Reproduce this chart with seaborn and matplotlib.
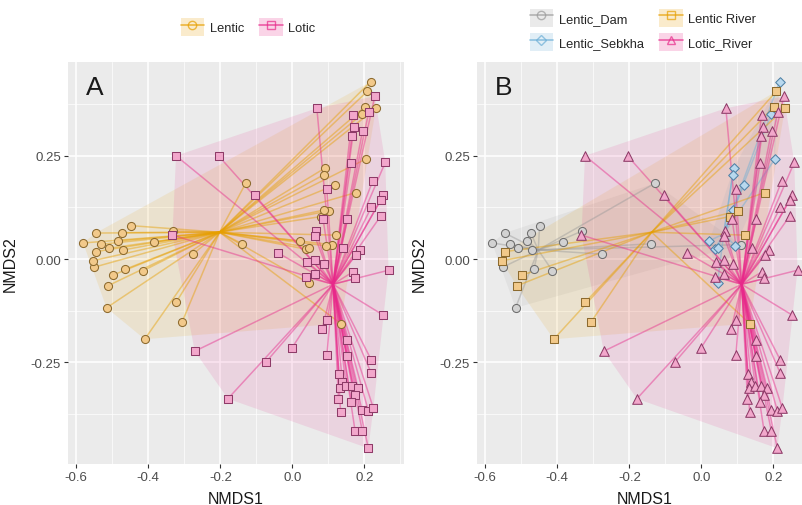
import numpy as np
import pandas as pd
import matplotlib
matplotlib.use("Agg")
import matplotlib.pyplot as plt
import seaborn as sns
from matplotlib.patches import Patch
from matplotlib.lines import Line2D
from matplotlib.collections import LineCollection
from matplotlib.legend_handler import HandlerTuple
from matplotlib.ticker import MultipleLocator, FormatStrFormatter

# ---------------- data (NMDS scores) ----------------
dam_x = [-0.581, -0.546, -0.530, -0.510, -0.483, -0.474, -0.449, -0.470, -0.384,
         -0.331, -0.276, -0.139, -0.130, -0.552, -0.465, -0.414, -0.516, 0.110]
dam_y = [0.039, 0.063, 0.036, 0.026, 0.044, 0.064, 0.081, 0.022, 0.041,
         0.068, 0.012, 0.037, 0.183, -0.020, -0.025, -0.028, -0.118, 0.035]

river_x = [-0.546, -0.554, -0.499, -0.513, -0.323, -0.306, -0.410, 0.208, 0.202,
           0.232, 0.176, 0.103, 0.080, 0.120, 0.134]
river_y = [0.018, -0.004, -0.039, -0.065, -0.105, -0.152, -0.194, 0.406, 0.369,
           0.365, 0.161, 0.117, 0.103, 0.058, -0.156]

sebkha_x = [0.217, 0.194, 0.204, 0.090, 0.087, 0.118, 0.089, 0.022, 0.037, 0.046,
            0.094, 0.045]
sebkha_y = [0.429, 0.351, 0.242, 0.220, 0.204, 0.179, 0.119, 0.044, 0.024, 0.028,
            0.032, -0.058]

lotic_x = [-0.323, -0.204, -0.105, -0.333, 0.068, 0.229, 0.167, 0.212, 0.171, 0.165,
           0.195, 0.258, 0.163, 0.223, 0.096, 0.253, 0.246, 0.219, 0.246, 0.153,
           0.085, 0.065, 0.062, -0.040, 0.140, 0.187, 0.176, 0.042, 0.064, 0.087,
           0.037, 0.063, 0.168, 0.175, 0.267, 0.253, 0.097, 0.083, -0.001, 0.096,
           0.153, 0.151, -0.074, 0.219, 0.219, 0.129, 0.139, 0.132, 0.150, 0.166,
           0.182, 0.173, 0.128, 0.164, 0.134, 0.193, 0.211, 0.225, 0.174, 0.194,
           0.211, -0.179, -0.271]
lotic_y = [0.250, 0.249, 0.155, 0.058, 0.365, 0.394, 0.348, 0.356, 0.319, 0.297,
           0.311, 0.234, 0.233, 0.189, 0.169, 0.155, 0.144, 0.125, 0.105, 0.096,
           0.098, 0.068, 0.056, 0.015, 0.027, 0.021, 0.011, -0.007, -0.002, -0.011,
           -0.043, -0.035, -0.031, -0.047, -0.027, -0.136, -0.147, -0.169, -0.215, -0.231,
           -0.197, -0.235, -0.250, -0.244, -0.276, -0.277, -0.298, -0.313, -0.308, -0.307,
           -0.311, -0.329, -0.339, -0.345, -0.370, -0.365, -0.367, -0.361, -0.415, -0.415,
           -0.458, -0.338, -0.223]

# group centroids (spider centres)
groups_A = ["Lentic", "Lotic"]
centroid_A_x = [-0.202, 0.113]
centroid_A_y = [0.065, -0.061]

groups_B = ["Lentic_Dam", "Lentic_Sebkha", "Lentic River", "Lotic_River"]
centroid_B_x = [-0.453, 0.062, -0.138, 0.112]
centroid_B_y = [0.022, 0.061, 0.065, -0.061]

x_ticks = [-0.6, -0.4, -0.2, 0.0, 0.2]
y_ticks = [-0.25, 0.00, 0.25]

# ---------------- assemble table ----------------
frames = []
for name, xs, ys in [("Lentic_Dam", dam_x, dam_y), ("Lentic River", river_x, river_y),
                     ("Lentic_Sebkha", sebkha_x, sebkha_y), ("Lotic_River", lotic_x, lotic_y)]:
    frames.append(pd.DataFrame({"NMDS1": xs, "NMDS2": ys, "habitat": name}))
df = pd.concat(frames, ignore_index=True)
df["type"] = np.where(df["habitat"].str.startswith("Lentic"), "Lentic", "Lotic")

# ---------------- styles ----------------
ORANGE = "#E69F00"
PINK = "#E7298A"
GREY = "#9A9A9A"
BLUE = "#6BAED6"
style = {
    "Lentic":        dict(col=ORANGE, m="o", fc="#F2C98A", ec="#8C6A2E", s=34),
    "Lotic":         dict(col=PINK,   m="s", fc="#F2A7CB", ec="#8E3B68", s=30),
    "Lentic_Dam":    dict(col=GREY,   m="o", fc="#D2D2D2", ec="#6E6E6E", s=34),
    "Lentic River":  dict(col=ORANGE, m="s", fc="#F2C98A", ec="#8C6A2E", s=30),
    "Lentic_Sebkha": dict(col=BLUE,   m="D", fc="#B8D8EE", ec="#4F81A6", s=24),
    "Lotic_River":   dict(col=PINK,   m="^", fc="#F2A7CB", ec="#8E3B68", s=48),
}


def convex_hull(pts):
    pts = sorted(set(map(tuple, pts)))
    if len(pts) < 3:
        return np.array(pts)

    def cross(o, a, b):
        return (a[0] - o[0]) * (b[1] - o[1]) - (a[1] - o[1]) * (b[0] - o[0])
    lower, upper = [], []
    for p in pts:
        while len(lower) >= 2 and cross(lower[-2], lower[-1], p) <= 0:
            lower.pop()
        lower.append(p)
    for p in reversed(pts):
        while len(upper) >= 2 and cross(upper[-2], upper[-1], p) <= 0:
            upper.pop()
        upper.append(p)
    return np.array(lower[:-1] + upper[:-1])


sns.set_theme(style="darkgrid")
plt.rcParams["font.family"] = ["Liberation Sans", "DejaVu Sans"]
plt.rcParams["axes.unicode_minus"] = False

fig = plt.figure(figsize=(8.02, 5.06), dpi=100)
W, H = 802.0, 506.0
axA = fig.add_axes([68 / W, 41 / H, 336 / W, 402 / H])
axB = fig.add_axes([477 / W, 41 / H, 336 / W, 402 / H])


def draw_panel(ax, col, groups, cx, cy, letter):
    ax.set_facecolor("#EBEBEB")
    # hulls
    for g in groups:
        sub = df[df[col] == g]
        h = convex_hull(sub[["NMDS1", "NMDS2"]].values)
        ax.fill(h[:, 0], h[:, 1], color=style[g]["col"], alpha=0.12, lw=0, zorder=1)
    # spider lines
    for g, gx, gy in zip(groups, cx, cy):
        sub = df[df[col] == g]
        segs = [[(gx, gy), (x, y)] for x, y in zip(sub["NMDS1"], sub["NMDS2"])]
        ax.add_collection(LineCollection(segs, colors=style[g]["col"], alpha=0.45,
                                         linewidths=1.1, zorder=2))
    # points
    for g in groups:
        sub = df[df[col] == g]
        st = style[g]
        sns.scatterplot(data=sub, x="NMDS1", y="NMDS2", marker=st["m"], s=st["s"],
                        color=st["fc"], edgecolor=st["ec"], linewidth=0.75,
                        ax=ax, legend=False, zorder=3)
    ax.set_xlim(-0.623, 0.31)
    ax.set_ylim(-0.496, 0.477)
    ax.set_xticks(x_ticks)
    ax.set_yticks(y_ticks)
    ax.xaxis.set_major_formatter(FormatStrFormatter("%.1f"))
    ax.yaxis.set_major_formatter(FormatStrFormatter("%.2f"))
    ax.xaxis.set_minor_locator(MultipleLocator(0.1))
    ax.yaxis.set_minor_locator(MultipleLocator(0.125))
    ax.grid(which="major", color="white", lw=1.1)
    ax.grid(which="minor", color="white", lw=0.5)
    ax.set_axisbelow(True)
    for sp in ax.spines.values():
        sp.set_visible(False)
    ax.tick_params(which="major", length=3, width=0.8, color="#333333",
                   labelcolor="#4D4D4D", labelsize=9.5, pad=2,
                   bottom=True, left=True)
    ax.tick_params(which="minor", length=0)
    ax.set_xlabel("NMDS1", fontsize=11.5, color="#1A1A1A")
    ax.set_ylabel("NMDS2", fontsize=11.5, color="#1A1A1A")
    ax.xaxis.set_label_coords(0.5, -0.068)
    ax.yaxis.set_label_coords(-0.15, 0.5)
    ax.text(0.08, 0.938, letter, transform=ax.transAxes, fontsize=19,
            ha="center", va="center", color="#1A1A1A")


draw_panel(axA, "type", groups_A, centroid_A_x, centroid_A_y, "A")
draw_panel(axB, "habitat", groups_B, centroid_B_x, centroid_B_y, "B")


def key(g):
    st = style[g]
    return (Patch(facecolor=st["col"], alpha=0.2, edgecolor="none"),
            Line2D([0], [0], color=st["col"], alpha=0.7, lw=1.2, marker=st["m"],
                   markersize=6 if st["m"] != "D" else 5,
                   markerfacecolor="none", markeredgecolor=st["col"], markeredgewidth=1.0))


leg_kw = dict(frameon=False, fontsize=9.3, handlelength=1.8, handleheight=1.8,
              handletextpad=0.45, labelspacing=0.45, columnspacing=1.2,
              handler_map={tuple: HandlerTuple(ndivide=1, pad=0)}, borderaxespad=0,
              borderpad=0)
fig.legend([key(g) for g in groups_A], groups_A, loc="center", ncol=2,
           bbox_to_anchor=(248 / W, 1 - 28 / H), **leg_kw)
fig.legend([key(g) for g in groups_B], groups_B, loc="center", ncol=2,
           bbox_to_anchor=(643 / W, 1 - 31 / H), **leg_kw)

fig.savefig("out.png", dpi=100)
